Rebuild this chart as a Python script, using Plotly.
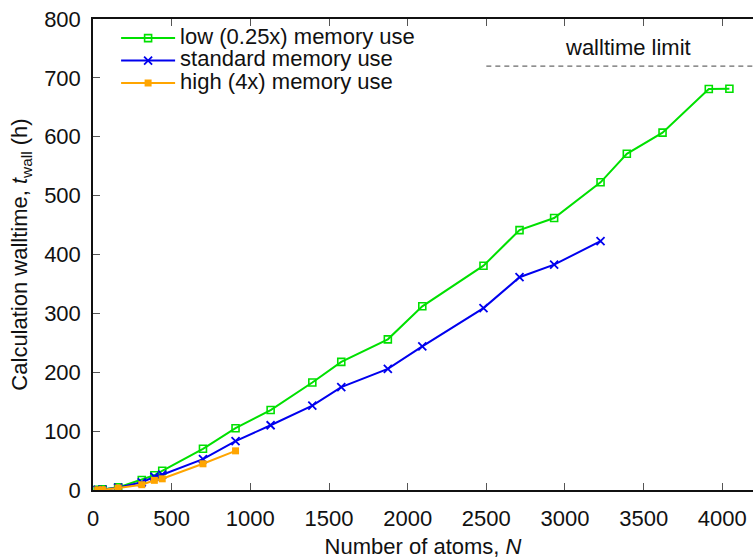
import plotly.graph_objects as go

# Walltime (hours) versus system size for three memory settings
n_low = [30, 60, 160, 310, 390, 440, 699, 906, 1129, 1394, 1578, 1874, 2093,
         2482, 2711, 2931, 3226, 3393, 3620, 3914, 4045]
t_low = [0.5, 1.0, 4.5, 17, 25, 32.7, 70, 105, 135.8, 182.6, 217.6, 255.9, 312,
         381, 441.4, 462, 522.6, 571, 607, 681, 681.5]

n_std = [30, 60, 160, 310, 390, 440, 699, 906, 1129, 1394, 1578, 1874, 2093,
         2482, 2711, 2931, 3226]
t_std = [0.3, 0.8, 4, 13, 22.5, 26, 52.4, 83, 110, 143.2, 174.7, 205.8, 244,
         309, 361.4, 382.7, 422.8]

n_high = [30, 60, 160, 310, 390, 440, 699, 906]
t_high = [0.2, 0.5, 3.4, 9, 16.4, 19, 44.5, 66.5]

walltime_limit = 720
limit_from_n = 2500
x_max = 4195
y_max = 800

x_ticks = [0, 500, 1000, 1500, 2000, 2500, 3000, 3500, 4000]
y_ticks = [0, 100, 200, 300, 400, 500, 600, 700, 800]

FONT = "Liberation Sans, Arial, Helvetica, sans-serif"
TXT = 22


def entry(label):
    return f'<span style="font-size:{TXT}px">{label}</span>'


fig = go.Figure()

fig.add_trace(go.Scatter(
    x=n_low, y=t_low, mode="lines+markers", name=entry("low (0.25x) memory use"),
    line=dict(color="#00e000", width=2),
    marker=dict(symbol="square-open", size=7, color="#00e000", line=dict(width=1.6)),
))
fig.add_trace(go.Scatter(
    x=n_std, y=t_std, mode="lines+markers", name=entry("standard memory use"),
    line=dict(color="#0000ee", width=2),
    marker=dict(symbol="x-thin-open", size=8, color="#0000ee", line=dict(width=1.8, color="#0000ee")),
))
fig.add_trace(go.Scatter(
    x=n_high, y=t_high, mode="lines+markers", name=entry("high (4x) memory use"),
    line=dict(color="#ffa500", width=2),
    marker=dict(symbol="square", size=7, color="#ffa500"),
))

# walltime limit
fig.add_trace(go.Scatter(
    x=[limit_from_n, x_max], y=[walltime_limit, walltime_limit], mode="lines",
    line=dict(color="#444444", width=1, dash="5px,4px"), showlegend=False,
    hoverinfo="skip",
))
fig.add_annotation(x=3400, y=751, text="walltime limit", showarrow=False,
                   font=dict(family=FONT, size=TXT, color="#111111"),
                   xanchor="center", yanchor="middle")

axis_common = dict(
    ticks="inside", ticklen=7, tickwidth=1, tickcolor="#555555",
    showgrid=False, zeroline=False,
    linecolor="#111111", linewidth=1.5,
    tickfont=dict(family=FONT, size=TXT, color="#111111"),
)

fig.update_layout(
    width=753, height=559,
    margin=dict(l=93, r=0, t=19, b=67),
    plot_bgcolor="white", paper_bgcolor="white",
    font=dict(family=FONT, size=TXT, color="#111111"),
    xaxis=dict(
        range=[0, x_max], tickvals=x_ticks, showline=True, mirror="ticks",
        ticklabelstandoff=8,
        title=dict(text="Number of atoms, <i>N</i>", standoff=12,
                   font=dict(family=FONT, size=TXT, color="#111111")),
        **axis_common,
    ),
    yaxis=dict(
        range=[0, y_max], tickvals=y_ticks, showline=True, mirror=False,
        ticklabelstandoff=6,
        title=dict(text="Calculation walltime, <i>t</i><sub>wall</sub> (h)", standoff=10,
                   font=dict(family=FONT, size=TXT, color="#111111")),
        **axis_common,
    ),
    yaxis2=dict(
        overlaying="y", side="right", range=[0, y_max], tickvals=y_ticks,
        showticklabels=False, showline=False, ticks="inside", ticklen=7,
        tickwidth=1, tickcolor="#555555", showgrid=False, zeroline=False,
    ),
    legend=dict(
        x=0.035, y=0.994, xanchor="left", yanchor="top",
        bgcolor="rgba(0,0,0,0)", borderwidth=0,
        font=dict(family=FONT, size=15, color="#111111"),
        itemwidth=54, tracegroupgap=0,
    ),
)

fig.write_html("out.html")
